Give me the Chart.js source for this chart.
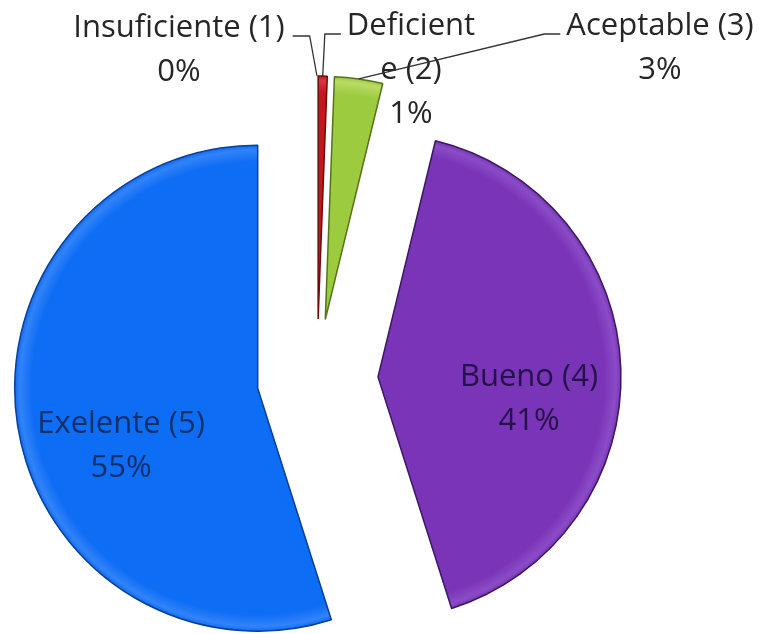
<!DOCTYPE html>
<html>
<head>
<meta charset="utf-8">
<script src="https://cdn.jsdelivr.net/npm/chart.js@4.4.0/dist/chart.umd.min.js"></script>
<style>
  html, body { margin: 0; padding: 0; background: #fff; }
  #wrap { width: 764px; height: 634px; }
</style>
</head>
<body>
<div id="wrap"><canvas id="grafico"></canvas></div>
<script>
// Datos
const categorias = ['Insuficiente (1)', 'Deficiente (2)', 'Aceptable (3)', 'Bueno (4)', 'Exelente (5)'];
const valores = [0, 0.6, 3.2, 41.3, 54.9];
// cómo se parte cada etiqueta en líneas (Excel corta "Deficiente")
const lineasEtiqueta = [['Insuficiente (1)'], ['Deficient', 'e (2)'], ['Aceptable (3)'], ['Bueno (4)'], ['Exelente (5)']];

const colores = ['#4F81BD', '#C3171E', '#9DCB3F', '#7A34B7', '#0E6DF5'];
const brillos = ['#6F96C9', '#D8383E', '#BADA66', '#8A4CC6', '#3283F8'];
const bordes = ['#2C4D75', '#6E0C0C', '#56731C', '#3A1763', '#0A3F96'];
const separacion = [60, 60, 60, 61, 60];
const radio = 243;

// posición de cada etiqueta respecto al centro del pastel
const posEtiquetas = [
  { dx: -138, dy: -342, color: '#262626', guia: 'der' },
  { dx: 94, dy: -344, color: '#262626', guia: 'izq' },
  { dx: 343, dy: -344, color: '#262626', guia: 'izq' },
  { dx: 212, dy: 7, color: '#24124a' },
  { dx: -196, dy: 54, color: '#12306a' }
];

// En Chart.js v4 el "offset" se divide entre 4 y además agranda el sector.
// Aquí el sector se desplaza los píxeles indicados sin cambiar su radio (como en Excel).
const dibujarArco = Chart.ArcElement.prototype.draw;
Chart.ArcElement.prototype.draw = function (ctx) {
  const opts = this.options;
  const sep = opts.offset || 0;
  const mid = (this.startAngle + this.endAngle) / 2;
  ctx.save();
  ctx.translate(Math.cos(mid) * sep, Math.sin(mid) * sep);
  this.options = Object.assign({}, opts, { offset: 0 });
  dibujarArco.call(this, ctx);
  this.options = opts;
  ctx.restore();
};

// relleno con un borde algo más claro, imitando el bisel de Excel
function relleno(c) {
  const i = c.dataIndex;
  const area = c.chart.chartArea;
  if (!area) return colores[i];
  const cx = (area.left + area.right) / 2;
  const cy = (area.top + area.bottom) / 2;
  const g = c.chart.ctx.createRadialGradient(cx, cy, 0, cx, cy, radio);
  g.addColorStop(0, colores[i]);
  g.addColorStop(0.93, colores[i]);
  g.addColorStop(0.98, brillos[i]);
  g.addColorStop(1, colores[i]);
  return g;
}

const etiquetas = {
  id: 'etiquetas',
  afterDatasetsDraw(chart) {
    const ctx = chart.ctx;
    const arcs = chart.getDatasetMeta(0).data;
    const total = valores.reduce((a, b) => a + b, 0);
    ctx.save();
    ctx.font = "31px 'Open Sans'";
    ctx.textAlign = 'center';
    ctx.textBaseline = 'alphabetic';
    arcs.forEach(function (arc, i) {
      const p = posEtiquetas[i];
      const x = arc.x + p.dx;
      const y = arc.y + p.dy;
      const lineas = lineasEtiqueta[i].concat([Math.round(valores[i] / total * 100) + '%']);
      ctx.fillStyle = p.color;
      lineas.forEach(function (t, k) {
        ctx.fillText(t, x, y + k * 44);
      });

      if (p.guia) {
        const w = ctx.measureText(lineas[0]).width;
        const sx = p.guia === 'der' ? x + w / 2 + 8 : x - w / 2 - 6;
        const ex = p.guia === 'der' ? sx + 17 : sx - 16;
        const mid = (arc.startAngle + arc.endAngle) / 2;
        const d = arc.outerRadius + (arc.options.offset || 0);
        ctx.beginPath();
        ctx.moveTo(sx, y - 1);
        ctx.lineTo(ex, y - 1);
        ctx.lineTo(arc.x + Math.cos(mid) * d, arc.y + Math.sin(mid) * d);
        ctx.strokeStyle = '#333333';
        ctx.lineWidth = 1.3;
        ctx.stroke();
      }
    });
    ctx.restore();
  }
};

const ctx = document.getElementById('grafico').getContext('2d');
new Chart(ctx, {
  type: 'pie',
  data: {
    labels: categorias,
    datasets: [{
      data: valores,
      backgroundColor: relleno,
      borderColor: bordes,
      borderWidth: [0, 1.5, 1.5, 1.5, 1.5],
      offset: separacion,
      clip: false
    }]
  },
  options: {
    responsive: true,
    maintainAspectRatio: false,
    animation: false,
    radius: radio,
    layout: { padding: { left: 0, right: 130, top: 124, bottom: 0 } },
    plugins: {
      legend: { display: false },
      tooltip: { enabled: false }
    }
  },
  plugins: [etiquetas]
});
</script>
</body>
</html>
